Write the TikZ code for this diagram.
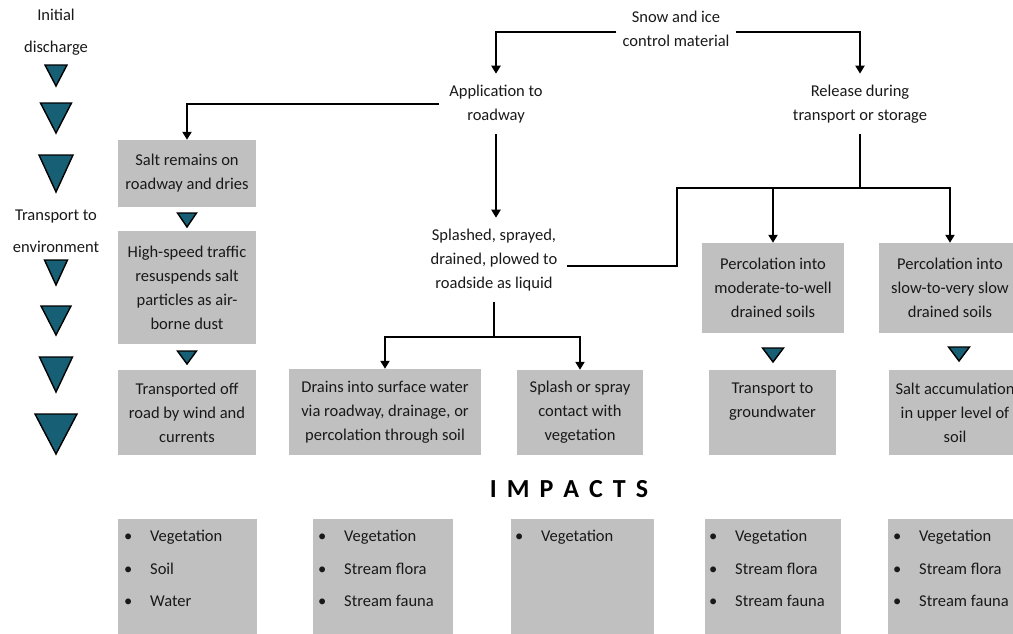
\documentclass[tikz,border=0pt]{standalone}
\usepackage{fontspec}
\setmainfont{Carlito}
\usetikzlibrary{arrows.meta}

\definecolor{boxgray}{RGB}{192,192,192}
\definecolor{trifill}{RGB}{22,95,116}
\definecolor{inkgray}{RGB}{25,25,25}

\newcommand\flowfont{\fontsize{16.5}{24}\selectfont}
\newcommand\sidefont{\fontsize{16.5}{32}\selectfont}
\newcommand\headfont{\fontsize{26}{30}\selectfont\bfseries}

% downward pointing triangle: centre x, top y, width, height
\newcommand\downtri[4]{%
  \filldraw[tri] ({#1-#3/2},#2) -- ({#1+#3/2},#2) -- (#1,{#2+#4}) -- cycle;}

\begin{document}
\begin{tikzpicture}[x=1pt,y=-1pt,
  lbl/.style={align=center, font=\flowfont, text=inkgray, inner xsep=10pt, inner ysep=11pt},
  side/.style={align=center, font=\sidefont, text=inkgray, inner sep=0pt},
  cbox/.style={fill=boxgray, align=center, font=\flowfont, text=inkgray, inner sep=0pt},
  ibox/.style={fill=boxgray, anchor=north west, inner sep=0pt, minimum height=115pt},
  item/.style={anchor=west, font=\flowfont, text=inkgray, inner sep=0pt, text height=11pt, text depth=3.5pt},
  flow/.style={line width=2.7pt, black},
  arr/.style={flow, -{Triangle[length=8pt,width=9pt]}},
  tri/.style={fill=trifill, draw=black, line width=1.4pt, line join=miter},
]
\useasboundingbox (0,0) rectangle (1013,633);

% ---- scale on the left ----
\node[side] (initial) at (56,32.5) {Initial\\discharge};
\node[side] (toenv) at (56,231.5) {Transport to\\environment};
\downtri{56}{65}{22}{21}
\downtri{56}{103}{31}{30}
\downtri{56}{155}{34}{37}
\downtri{56}{260}{23}{25}
\downtri{56}{306}{30}{29}
\downtri{56}{357}{33}{35}
\downtri{56}{414}{42}{40}

% ---- source and pathways ----
\node[lbl, inner xsep=6pt] (snow) at (676,28.5) {Snow and ice\\control material};
\node[lbl] (app) at (496,104) {Application to\\roadway};
\node[lbl] (rel) at (860,104) {Release during\\transport or storage};
\node[lbl] (spl) at (494,260) {Splashed, sprayed,\\drained, plowed to\\roadside as liquid};

\node[cbox, minimum width=138pt, minimum height=67pt] (salt) at (187,173.5) {Salt remains on\\roadway and dries};
\node[cbox, minimum width=138pt, minimum height=113pt] (high) at (187,287.5) {High-speed traffic\\resuspends salt\\particles as air-\\borne dust};
\node[cbox, minimum width=138pt, minimum height=85pt] (trans) at (187,412.5) {Transported off\\road by wind and\\currents};
\downtri{187}{213}{19}{14}
\downtri{187}{351}{19}{13}

\node[cbox, minimum width=192pt, minimum height=86pt] (drains) at (385,412) {Drains into surface water\\via roadway, drainage, or\\percolation through soil};
\node[cbox, minimum width=126pt, minimum height=85pt] (spray) at (580,412.5) {Splash or spray\\contact with\\vegetation};

\node[cbox, minimum width=142pt, minimum height=90pt] (moder) at (773,288) {Percolation into\\moderate-to-well\\drained soils};
\node[cbox, minimum width=142pt, minimum height=90pt] (slow) at (950,288) {Percolation into\\slow-to-very slow\\drained soils};
\node[cbox, minimum width=127pt, minimum height=85pt] (gw) at (772.5,412.5) {Transport to\\groundwater\\\mbox{}};
\node[cbox, minimum width=132pt, minimum height=85pt] (accum) at (955,412.5) {Salt accumulation\\in upper level of\\soil};
\downtri{773}{348}{21}{14}
\downtri{959}{347}{21}{14}

% ---- connectors ----
\coordinate (jr) at (860,188);
\coordinate (kink) at (677,188);
\coordinate (js) at (494,337);

\draw[arr] ([yshift=-3.5pt]snow.west) -| (app.north);
\draw[arr] ([yshift=-3.5pt]snow.east) -| (rel.north);
\draw[arr] (app.west) -| (salt.north);
\draw[arr] (app.south) -- (app.south |- spl.north);
\draw[flow] (rel.south) -- (jr);
\draw[flow] ([yshift=-6pt]spl.east) -| (kink) -- (jr);
\draw[arr] (jr) -| (moder.north);
\draw[arr] (jr) -| (slow.north);
\draw[flow] (spl.south) -- (js);
\draw[arr] (js) -| (drains.north);
\draw[arr] (js) -| (spray.north);

% ---- impacts ----
\node[font=\headfont, text=black] (impacts) at (569,489) {I\hspace{10pt}M\hspace{10pt}P\hspace{10pt}A\hspace{10pt}C\hspace{10pt}T\hspace{10pt}S};

\node[ibox, minimum width=139pt] (imp1) at (118,519) {};
\node[ibox, minimum width=140pt] (imp2) at (313,519) {};
\node[ibox, minimum width=143pt] (imp3) at (511,519) {};
\node[ibox, minimum width=136pt] (imp4) at (705,519) {};
\node[ibox, minimum width=140pt] (imp5) at (888,519) {};

\node[item] (i1a) at (124,538) {\makebox[26pt][l]{•}Vegetation};
\node[item] (i1b) at (124,571) {\makebox[26pt][l]{•}Soil};
\node[item] (i1c) at (124,603) {\makebox[26pt][l]{•}Water};

\node[item] (i2a) at (318,538) {\makebox[26pt][l]{•}Vegetation};
\node[item] (i2b) at (318,571) {\makebox[26pt][l]{•}Stream flora};
\node[item] (i2c) at (318,603) {\makebox[26pt][l]{•}Stream fauna};

\node[item] (i3a) at (515,538) {\makebox[26pt][l]{•}Vegetation};

\node[item] (i4a) at (709,538) {\makebox[26pt][l]{•}Vegetation};
\node[item] (i4b) at (709,571) {\makebox[26pt][l]{•}Stream flora};
\node[item] (i4c) at (709,603) {\makebox[26pt][l]{•}Stream fauna};

\node[item] (i5a) at (893,538) {\makebox[26pt][l]{•}Vegetation};
\node[item] (i5b) at (893,571) {\makebox[26pt][l]{•}Stream flora};
\node[item] (i5c) at (893,603) {\makebox[26pt][l]{•}Stream fauna};
\end{tikzpicture}
\end{document}
